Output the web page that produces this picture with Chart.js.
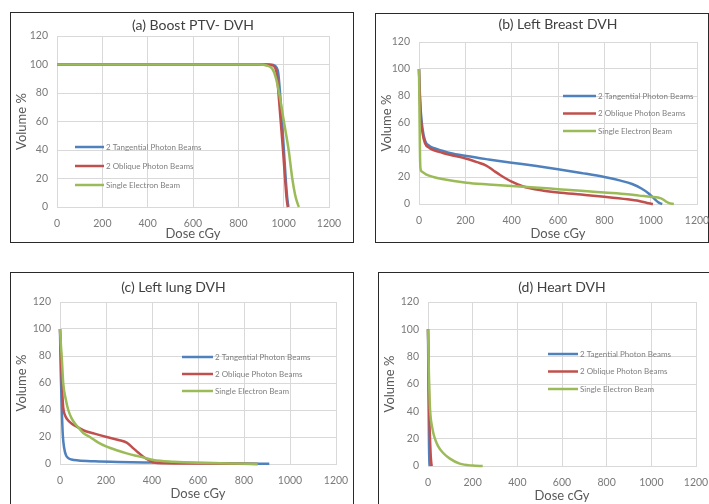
<!DOCTYPE html>
<html lang="en">
<head>
  <meta charset="UTF-8">
  <title>DVH comparison</title>
  <script src="https://cdn.jsdelivr.net/npm/chart.js"></script>
  <style>
    html, body { margin: 0; padding: 0; background: #fff; width: 709px; height: 504px; overflow: hidden; }
    body { position: relative; }
    .frame { position: absolute; box-sizing: border-box; border: 1.5px solid #2a2a2a; }
    canvas { position: absolute; }
  </style>
</head>
<body>

  <!-- panel frames -->
  <div class="frame" style="left:10px;top:12px;width:344px;height:231px"></div>
  <div class="frame" style="left:375px;top:13px;width:334px;height:230px"></div>
  <div class="frame" style="left:10px;top:272px;width:344px;height:260px"></div>
  <div class="frame" style="left:378px;top:272px;width:340px;height:260px"></div>

  <canvas id="ptvChart" width="341" height="228" style="left:11px;top:13px"></canvas>
  <canvas id="breastChart" width="333" height="227" style="left:376px;top:14px"></canvas>
  <canvas id="lungChart" width="341" height="228" style="left:11px;top:273px"></canvas>
  <canvas id="heartChart" width="330" height="230" style="left:379px;top:273px"></canvas>

  <script>
    // --- axes ---
    const xTicks = [0, 200, 400, 600, 800, 1000, 1200];
    const yTicks = [0, 20, 40, 60, 80, 100, 120];

    const beamNames = ['2 Tangential Photon Beams', '2 Oblique Photon Beams', 'Single Electron Beam'];
    const heartBeamNames = ['2 Tagential Photon Beams', '2 Oblique Photon Beams', 'Single Electron Beam'];
    const beamColors = ['#4F81BD', '#C0504D', '#9BBB59'];

    // --- DVH curves, [dose cGy, volume %] ---
    const ptvTangential = [[0, 100], [930, 100], [955, 99.6], [968, 98], [976, 94], [983, 82], [992, 62], [1001, 40], [1009, 20], [1016, 6], [1021, 0]];
    const ptvOblique = [[0, 100], [925, 100], [950, 99.5], [963, 97.5], [971, 92], [977, 80], [987, 60], [997, 40], [1006, 20], [1013, 6], [1018, 0]];
    const ptvElectron = [[0, 100], [890, 100], [925, 99.3], [950, 97], [965, 91], [980, 80], [1001, 60], [1022, 40], [1038, 20], [1050, 9], [1060, 3], [1067, 0]];

    const breastTangential = [[0, 100], [3, 85], [8, 68], [15, 56], [26, 47], [45, 43], [62, 41.5], [100, 39.5], [133, 37.8], [205, 35.5], [300, 33], [400, 30.6], [500, 28.3], [600, 25.8], [700, 23], [800, 20], [870, 17.3], [920, 14.8], [960, 11.5], [990, 8], [1015, 4], [1035, 1], [1050, 0]];
    const breastOblique = [[0, 100], [3, 82], [8, 64], [15, 53], [26, 45], [45, 41.5], [62, 40], [100, 38], [133, 36.5], [205, 33.5], [250, 31], [290, 28.5], [320, 25], [350, 21.5], [400, 16.5], [450, 13], [500, 11], [600, 8.5], [700, 7], [800, 5.4], [900, 3.5], [950, 2.2], [985, 0.8], [1010, 0]];
    const breastElectron = [[0, 100], [2, 70], [4, 40], [6, 27], [12, 24], [30, 22], [62, 20], [100, 18.5], [205, 15.8], [300, 14.5], [400, 13.3], [500, 12.2], [600, 11], [700, 9.8], [800, 8.5], [900, 7.2], [950, 6.2], [1000, 5.3], [1045, 4.2], [1065, 2], [1080, 0.6], [1100, 0]];

    const lungTangential = [[0, 100], [3, 70], [7, 45], [12, 22], [18, 12], [25, 7], [35, 4.5], [50, 3.3], [80, 2.6], [150, 2], [250, 1.5], [400, 1.1], [600, 0.7], [800, 0.4], [910, 0.2]];
    const lungOblique = [[0, 100], [4, 80], [8, 60], [14, 42], [22, 36], [32, 33], [50, 30], [80, 27], [101, 25], [150, 22.5], [203, 20], [254, 17.8], [290, 15.8], [319, 11.6], [340, 8.5], [362, 5.4], [385, 3], [406, 1.2], [450, 0.5], [600, 0.3], [860, 0]];
    const lungElectron = [[0, 100], [4, 88], [8, 78], [14, 60], [25, 48], [36, 40], [50, 34], [65, 30], [80, 27], [101, 23], [130, 20], [165, 16], [203, 12.8], [250, 10], [290, 7.9], [330, 6.1], [362, 4.9], [406, 3], [493, 1.7], [600, 0.9], [750, 0.4], [860, 0]];

    const heartTangential = [[0, 100], [1.5, 70], [3, 40], [4.5, 15], [6, 4], [8, 0]];
    const heartOblique = [[0, 100], [2, 80], [4, 55], [6, 35], [9, 20], [12, 8], [15, 2], [17, 0]];
    const heartElectron = [[0, 100], [2, 85], [4, 68], [6, 55], [9, 42], [13, 34], [18, 29], [24, 24], [31, 20], [45, 14.5], [68, 9.5], [98, 5.4], [142, 1.7], [200, 0.3], [245, 0]];

    Chart.defaults.font.family = 'Lato, "Liberation Sans", sans-serif';
    Chart.defaults.color = '#7a7a7a';

    // legend drawn inside the plot area, Excel style
    const inlineLegend = {
      id: 'inlineLegend',
      afterDatasetsDraw(chart, args, opts) {
        const ctx = chart.ctx;
        ctx.save();
        ctx.font = '8px Lato, "Liberation Sans", sans-serif';
        ctx.textBaseline = 'middle';
        chart.data.datasets.forEach((ds, i) => {
          const y = opts.y + i * opts.gap;
          ctx.strokeStyle = ds.borderColor;
          ctx.lineWidth = 2.5;
          ctx.beginPath();
          ctx.moveTo(opts.x, y);
          ctx.lineTo(opts.x + opts.len, y);
          ctx.stroke();
          ctx.fillStyle = '#7f7f7f';
          ctx.fillText(ds.label, opts.x + opts.len + 2, y);
        });
        ctx.restore();
      }
    };

    function makeChart(id, title, names, series, cfg) {
      const ctx = document.getElementById(id).getContext('2d');
      return new Chart(ctx, {
        type: 'line',
        data: {
          datasets: series.map((pts, i) => ({
            label: names[i],
            data: pts.map(([x, y]) => ({ x, y })),
            borderColor: beamColors[i],
            borderWidth: 2.5,
            pointRadius: 0,
            cubicInterpolationMode: 'monotone',
            clip: 4,
            order: 2 - i
          }))
        },
        options: {
          responsive: false,
          animation: false,
          layout: { padding: { right: cfg.padRight } },
          plugins: {
            legend: { display: false },
            tooltip: { enabled: false },
            title: {
              display: true,
              text: title,
              fullSize: cfg.titleFull,
              color: '#404040',
              font: { size: 14, weight: 'normal', lineHeight: 1.2 },
              padding: cfg.titlePad
            },
            inlineLegend: cfg.legend
          },
          scales: {
            x: {
              type: 'linear',
              min: 0, max: 1200,
              afterBuildTicks: s => { s.ticks = xTicks.map(v => ({ value: v })); },
              afterFit: s => { s.height = cfg.xh; s.paddingLeft = 0; s.paddingRight = 0; },
              grid: { color: '#d9d9d9', drawTicks: false },
              border: { color: '#d9d9d9' },
              ticks: { padding: 10, font: { size: 10.5 }, color: '#7a7a7a', callback: v => String(v) },
              title: { display: true, text: 'Dose cGy', color: '#595959', font: { size: 13, lineHeight: 1 }, padding: { top: 0, bottom: 1 } }
            },
            y: {
              min: 0, max: 120,
              afterBuildTicks: s => { s.ticks = yTicks.map(v => ({ value: v })); },
              afterFit: s => { s.width = cfg.yw; },
              grid: { color: '#d9d9d9', drawTicks: false },
              border: { display: false },
              ticks: { padding: 9, font: { size: 10.5 }, color: '#7a7a7a', callback: v => String(v) },
              title: { display: true, text: 'Volume %', color: '#595959', font: { size: 13, lineHeight: 1 }, padding: { top: 4, bottom: 0 } }
            }
          }
        },
        plugins: [inlineLegend]
      });
    }

    makeChart('ptvChart', '(a) Boost PTV- DVH', beamNames,
      [ptvTangential, ptvOblique, ptvElectron],
      { yw: 46, xh: 34, padRight: 23, titleFull: false, titlePad: { top: 3.6, bottom: 2.6 },
        legend: { x: 64, y: 134, gap: 19, len: 29 } });

    makeChart('breastChart', '(b) Left Breast DVH', beamNames,
      [breastTangential, breastOblique, breastElectron],
      { yw: 43, xh: 37, padRight: 12, titleFull: false, titlePad: { top: 2, bottom: 9.2 },
        legend: { x: 187, y: 82, gap: 17.5, len: 33 } });

    makeChart('lungChart', '(c) Left lung DVH', beamNames,
      [lungTangential, lungOblique, lungElectron],
      { yw: 49, xh: 37, padRight: 16, titleFull: true, titlePad: { top: 5.6, bottom: 6.6 },
        legend: { x: 171, y: 84, gap: 17, len: 31 } });

    makeChart('heartChart', '(d) Heart DVH', heartBeamNames,
      [heartTangential, heartOblique, heartElectron],
      { yw: 49, xh: 37, padRight: 13, titleFull: false, titlePad: { top: 5.6, bottom: 6.6 },
        legend: { x: 169, y: 81, gap: 17.5, len: 30 } });
  </script>

</body>
</html>
